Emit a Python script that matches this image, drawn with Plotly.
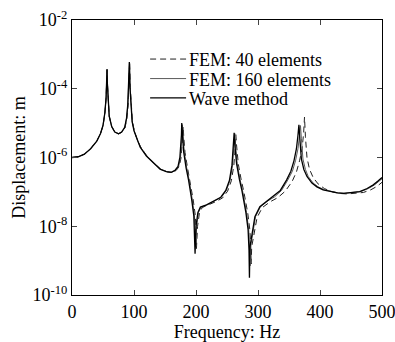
import plotly.graph_objects as go

# ---- data (frequency in Hz, displacement in m) ----
wave_f = [0, 10, 20, 30, 40, 46, 50, 53, 55, 56, 56.5, 57, 58, 60, 64, 69, 75, 80, 85, 88, 90, 91.5,
          92.5, 93.5, 95, 97, 100, 105, 110, 120, 131, 142, 152, 160, 166, 171, 174, 175.5, 176.5, 177,
          178, 180, 184, 188, 193, 196.5, 198.5, 200, 203, 207, 217, 230, 240, 248, 254, 258, 260.5,
          261.5, 262.5, 265.5, 270, 274, 280.5, 284, 285.5, 286.2, 287, 289.5, 295, 303, 315, 325, 336,
          346, 353, 358, 362, 364.5, 366, 367.5, 370, 374, 379, 387, 395, 405, 416, 428, 438, 450, 464,
          476, 486, 494, 500]
wave_d = [1.0e-6, 1.05e-6, 1.25e-6, 1.8e-6, 3.0e-6, 5.0e-6, 8.5e-6, 2.0e-5, 5.5e-5, 1.6e-4, 3.7e-4,
          1.5e-4, 4.5e-5, 1.6e-5, 8.0e-6, 5.5e-6, 4.9e-6, 5.5e-6, 7.5e-6, 1.4e-5, 3.5e-5, 1.2e-4,
          6.0e-4, 1.1e-4, 3.0e-5, 1.1e-5, 6.0e-6, 3.2e-6, 2.0e-6, 1.1e-6, 7.0e-7, 4.6e-7, 3.9e-7,
          3.7e-7, 4.2e-7, 5.5e-7, 1.0e-6, 2.0e-6, 4.5e-6, 1.0e-5, 4.0e-6, 1.5e-6, 5.0e-7, 2.2e-7,
          6.0e-8, 2.0e-8, 1.6e-9, 1.0e-8, 2.5e-8, 3.6e-8, 4.2e-8, 5.5e-8, 7.0e-8, 1.1e-7, 2.2e-7,
          6.0e-7, 2.0e-6, 5.2e-6, 2.5e-6, 6.5e-7, 2.3e-7, 1.1e-7, 2.5e-8, 8.0e-9, 2.0e-9, 3.2e-10,
          2.5e-9, 5.0e-9, 1.9e-8, 3.7e-8, 5.5e-8, 7.2e-8, 1.1e-7, 2.2e-7, 4.0e-7, 8.0e-7, 1.8e-6,
          4.5e-6, 9.0e-6, 3.5e-6, 9.0e-7, 4.5e-7, 2.8e-7, 1.8e-7, 1.4e-7, 1.15e-7, 1.02e-7, 9.3e-8,
          9.1e-8, 9.5e-8, 1.02e-7, 1.25e-7, 1.6e-7, 2.1e-7, 2.6e-7]

fem160_f = [0, 10, 20, 30, 40, 46, 50, 53, 55, 56, 56.5, 57, 58, 60, 64, 69, 75, 80, 85, 88, 90, 91.7,
            92.7, 93.7, 95.2, 97.2, 100.3, 105.3, 110.5, 120.5, 131.5, 142.5, 152.5, 160.5, 167, 172,
            175, 176.5, 177.5, 178, 179, 181, 185, 189, 194, 197.5, 199.3, 201, 204, 208, 218, 231,
            241, 249, 255, 259, 261.5, 262.5, 263.5, 266.5, 271, 275, 281.5, 285, 286.5, 287.2, 288,
            290.5, 296, 304, 316, 327, 338, 348, 355.5, 360.5, 364.5, 367, 368.5, 370, 372.5, 376.5,
            381, 389, 397, 407, 418, 430, 440, 452, 466, 478, 488, 496, 500]
fem160_d = [1.0e-6, 1.05e-6, 1.25e-6, 1.8e-6, 3.0e-6, 5.0e-6, 8.5e-6, 2.0e-5, 5.5e-5, 1.6e-4, 3.6e-4,
            1.5e-4, 4.5e-5, 1.6e-5, 8.0e-6, 5.5e-6, 4.9e-6, 5.4e-6, 7.3e-6, 1.35e-5, 3.2e-5, 1.2e-4,
            5.8e-4, 1.1e-4, 3.0e-5, 1.1e-5, 6.0e-6, 3.2e-6, 2.0e-6, 1.1e-6, 7.0e-7, 4.6e-7, 3.9e-7,
            3.7e-7, 4.2e-7, 5.5e-7, 1.0e-6, 2.0e-6, 4.5e-6, 9.0e-6, 4.0e-6, 1.5e-6, 5.0e-7, 2.2e-7,
            6.0e-8, 2.0e-8, 2.5e-9, 1.0e-8, 2.5e-8, 3.6e-8, 4.2e-8, 5.5e-8, 7.0e-8, 1.1e-7, 2.2e-7,
            6.0e-7, 2.0e-6, 5.0e-6, 2.5e-6, 6.5e-7, 2.3e-7, 1.1e-7, 2.5e-8, 8.0e-9, 2.5e-9, 7.0e-10,
            2.5e-9, 5.0e-9, 1.9e-8, 3.7e-8, 5.5e-8, 7.2e-8, 1.1e-7, 2.2e-7, 4.0e-7, 8.0e-7, 1.8e-6,
            4.5e-6, 8.5e-6, 3.5e-6, 9.0e-7, 4.5e-7, 2.8e-7, 1.8e-7, 1.4e-7, 1.15e-7, 1.02e-7, 9.3e-8,
            9.1e-8, 9.5e-8, 1.02e-7, 1.25e-7, 1.6e-7, 2.1e-7, 2.4e-7]

fem40_f = [0, 10, 20, 30, 40, 46, 50, 53, 55, 56.1, 56.6, 57.1, 58.1, 60.1, 64, 69, 75, 80.5, 85.5,
           88.5, 90.5, 92, 93, 94, 95.5, 97.5, 100.5, 105.5, 111, 121, 132.5, 143.5, 154, 162, 168,
           173, 176, 177.5, 178.5, 179.3, 180.3, 182.3, 186.5, 190.5, 195.5, 199, 200.7, 202.5, 205.5,
           210, 220, 233, 243, 251, 257, 261, 263.3, 264.3, 265.3, 268.3, 273, 277, 283.5, 287, 288.3,
           289, 289.8, 292.5, 298.5, 307, 320, 332, 344, 355, 362, 367, 371, 373.5, 375, 376.5, 379,
           383, 389, 397, 407, 420, 432, 444, 456, 470, 482, 492, 500]
fem40_d = [1.0e-6, 1.05e-6, 1.25e-6, 1.8e-6, 3.0e-6, 5.0e-6, 8.4e-6, 1.9e-5, 5.3e-5, 1.6e-4, 3.6e-4,
           1.5e-4, 4.5e-5, 1.6e-5, 8.0e-6, 5.5e-6, 4.9e-6, 5.4e-6, 7.3e-6, 1.35e-5, 3.3e-5, 1.2e-4,
           6.3e-4, 1.1e-4, 3.0e-5, 1.1e-5, 6.0e-6, 3.2e-6, 2.0e-6, 1.1e-6, 6.8e-7, 4.5e-7, 3.8e-7,
           3.7e-7, 4.2e-7, 5.5e-7, 1.0e-6, 2.0e-6, 4.5e-6, 8.0e-6, 3.8e-6, 1.4e-6, 4.8e-7, 2.1e-7,
           5.8e-8, 2.0e-8, 2.2e-9, 1.0e-8, 2.4e-8, 3.5e-8, 4.1e-8, 5.3e-8, 6.7e-8, 1.05e-7, 2.1e-7,
           5.8e-7, 1.9e-6, 4.6e-6, 2.4e-6, 6.3e-7, 2.2e-7, 1.05e-7, 2.4e-8, 7.5e-9, 2.5e-9, 8.0e-10,
           2.5e-9, 4.8e-9, 1.8e-8, 3.5e-8, 5.2e-8, 6.8e-8, 1.05e-7, 2.0e-7, 3.8e-7, 8.0e-7, 1.8e-6,
           4.8e-6, 1.5e-5, 4.0e-6, 1.0e-6, 4.6e-7, 2.6e-7, 1.7e-7, 1.25e-7, 1.0e-7, 9.0e-8, 8.7e-8,
           8.9e-8, 9.6e-8, 1.15e-7, 1.45e-7, 1.9e-7]

series_names = ["FEM: 40 elements", "FEM: 160 elements", "Wave method"]
series_colors = ["#202020", "#5a5a5a", "#000000"]
series_widths = [1, 1, 1.3]
series_dash = ["6px,4px", "solid", "solid"]

x_ticks = [0, 100, 200, 300, 400, 500]
y_ticks = [1e-10, 1e-8, 1e-6, 1e-4, 1e-2]
y_ticktext = ["10<sup>-10</sup>", "10<sup>-8</sup>", "10<sup>-6</sup>", "10<sup>-4</sup>", "10<sup>-2</sup>"]

FONT = "Times New Roman, Liberation Serif, DejaVu Serif, serif"
FS = 18

fig = go.Figure()
for fx, dy, nm, col, w, ds in zip([fem40_f, fem160_f, wave_f], [fem40_d, fem160_d, wave_d],
                                  series_names, series_colors, series_widths, series_dash):
    fig.add_trace(go.Scatter(x=fx, y=dy, mode="lines", name=nm, showlegend=False,
                             line=dict(color=col, width=w, dash=ds)))

# compact legend (drawn in paper coordinates, placed like the original)
leg_x0, leg_x1, leg_tx = 0.252, 0.368, 0.370
leg_y = [0.858, 0.787, 0.717]
for nm, col, w, ds, yy in zip(series_names, series_colors, series_widths, series_dash, leg_y):
    fig.add_shape(type="line", xref="paper", yref="paper", x0=leg_x0, x1=leg_x1, y0=yy, y1=yy,
                  line=dict(color=col, width=w, dash=ds))
    fig.add_annotation(xref="paper", yref="paper", x=leg_tx, y=yy, text=nm, showarrow=False,
                       xanchor="left", yanchor="middle", yshift=-1,
                       font=dict(family=FONT, size=FS, color="black"))

fig.update_layout(
    width=395, height=342,
    margin=dict(l=72, r=13, t=20, b=47),
    paper_bgcolor="white", plot_bgcolor="white",
    font=dict(family=FONT, size=FS, color="black"),
    showlegend=False,
    xaxis=dict(range=[0, 500], tickvals=x_ticks, ticks="inside", ticklen=5,
               showline=True, linecolor="black", linewidth=1.3, mirror="ticks",
               showgrid=False, zeroline=False, tickfont=dict(family=FONT, size=FS),
               ticklabeloverflow="allow", automargin=False,
               title=dict(text="Frequency: Hz", font=dict(family=FONT, size=FS), standoff=0)),
    yaxis=dict(type="log", range=[-10, -2], tickvals=y_ticks, ticktext=y_ticktext,
               ticks="inside", ticklen=5,
               showline=True, linecolor="black", linewidth=1.3, mirror="ticks",
               showgrid=False, zeroline=False, tickfont=dict(family=FONT, size=FS),
               ticklabeloverflow="allow", automargin=False,
               title=dict(text="Displacement: m", font=dict(family=FONT, size=FS), standoff=2)),
)

fig.write_html("out.html")
